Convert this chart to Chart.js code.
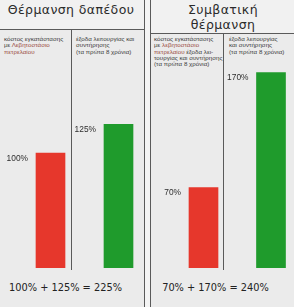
<!DOCTYPE html>
<html><head><meta charset="utf-8">
<script src="https://cdn.jsdelivr.net/npm/chart.js@4"></script>
<style>
html,body{margin:0;padding:0;width:294px;height:307px;overflow:hidden;background:#ebebeb;}
#wrap{position:relative;width:294px;height:307px;overflow:hidden;}
.abs{position:absolute;}
.line{position:absolute;background:#5a5a5a;}
.title{position:absolute;font-family:"DejaVu Sans",sans-serif;font-size:12.5px;color:#2a2a2a;text-align:center;line-height:15px;letter-spacing:0.4px;}
.desc{position:absolute;font-family:"Liberation Sans",Arial,sans-serif;font-size:6.2px;line-height:6.3px;color:#3a3a3a;white-space:nowrap;}
.desc .r{color:#9a4a3c;}
.sum{position:absolute;font-family:"DejaVu Sans",sans-serif;font-size:9.8px;color:#222;white-space:nowrap;text-align:center;}
canvas{position:absolute;top:0;}
</style></head>
<body><div id="wrap">
<div class="abs" style="left:0;top:0;width:145px;height:29px;background:#f1f1f1"></div>
<div class="abs" style="left:150px;top:0;width:144px;height:33px;background:#f1f1f1"></div>
<div class="abs" style="left:145px;top:0;width:5px;height:307px;background:#f4f4f4"></div>
<div class="line" style="left:0;top:29px;width:145px;height:1px"></div>
<div class="line" style="left:150px;top:33px;width:144px;height:1px"></div>
<div class="line" style="left:144px;top:0;width:1px;height:307px"></div>
<div class="line" style="left:150px;top:0;width:1px;height:307px"></div>
<div class="line" style="left:71px;top:29px;width:1px;height:241px"></div>
<div class="line" style="left:223px;top:33px;width:1px;height:237px"></div>
<div id="t0" class="title" style="left:0;top:2px;width:142px"></div>
<div id="t1" class="title" style="left:152px;top:2px;width:142px"></div>
<div class="desc" style="left:4px;top:36px">κόστος εγκατάστασης<br>με <span class="r">Λεβητοστάσιο</span><br><span class="r">πετρελαίου</span></div>
<div class="desc" style="left:76px;top:36px">έξοδα λειτουργίας και<br>συντήρησης<br>(τα πρώτα 8 χρόνια)</div>
<div class="desc" style="left:154px;top:36px">κόστος εγκατάστασης<br>με <span class="r">λεβητοστάσιο</span><br><span class="r">πετρελαίου</span> έξοδα λει-<br>τουργίας και συντήρησης<br>(τα πρώτα 8 χρόνια)</div>
<div class="desc" style="left:229px;top:36px">έξοδα λειτουργίας<br>και συντήρησης<br>(τα πρώτα 8 χρόνια)</div>
<div id="s0" class="sum" style="left:0;top:282px;width:131px"></div>
<div id="s1" class="sum" style="left:150px;top:282px;width:131px"></div>
<canvas id="c0" width="160" height="307" style="left:0"></canvas>
<canvas id="c1" width="160" height="307" style="left:150px"></canvas>
</div>
<script>
const categories = ['κόστος εγκατάστασης', 'έξοδα λειτουργίας και συντήρησης'];
const panelTitles = ['Θέρμανση δαπέδου', 'Συμβατική<br>θέρμανση'];
const floorHeatingValues = [100, 125];
const conventionalValues = [70, 170];
const barColors = ['#e6372c', '#1f9b2c'];

document.getElementById('t0').innerHTML = panelTitles[0];
document.getElementById('t1').innerHTML = panelTitles[1];
function sumText(v){ return v[0] + '% + ' + v[1] + '% = ' + (v[0] + v[1]) + '%'; }
document.getElementById('s0').textContent = sumText(floorHeatingValues);
document.getElementById('s1').textContent = sumText(conventionalValues);

const valueLabels = {
  id: 'valueLabels',
  afterDatasetsDraw(chart) {
    const ctx = chart.ctx;
    const meta = chart.getDatasetMeta(0);
    const data = chart.data.datasets[0].data;
    ctx.save();
    ctx.font = '8.4px "Liberation Sans", Arial, sans-serif';
    ctx.fillStyle = '#2e2e2e';
    ctx.textAlign = 'right';
    ctx.textBaseline = 'middle';
    meta.data.forEach((bar, i) => {
      ctx.fillText(data[i] + '%', bar.x - bar.width / 2 - 8, bar.y + 5.5);
    });
    ctx.restore();
  }
};

function makeChart(id, values, padL, padR) {
  return new Chart(document.getElementById(id), {
    type: 'bar',
    data: { labels: categories, datasets: [{ data: values, backgroundColor: barColors, borderWidth: 0, barThickness: 29 }] },
    options: {
      responsive: false, animation: false, events: [],
      layout: { padding: { left: padL, right: padR, top: 38, bottom: 39 } },
      plugins: { legend: { display: false }, tooltip: { enabled: false } },
      scales: {
        x: { display: false, offset: true },
        y: { display: false, min: 0, max: 200 }
      }
    },
    plugins: [valueLabels]
  });
}
makeChart('c0', floorHeatingValues, 16.5, 7.5);
makeChart('c1', conventionalValues, 19.75, 5.25);
</script>
</body></html>
